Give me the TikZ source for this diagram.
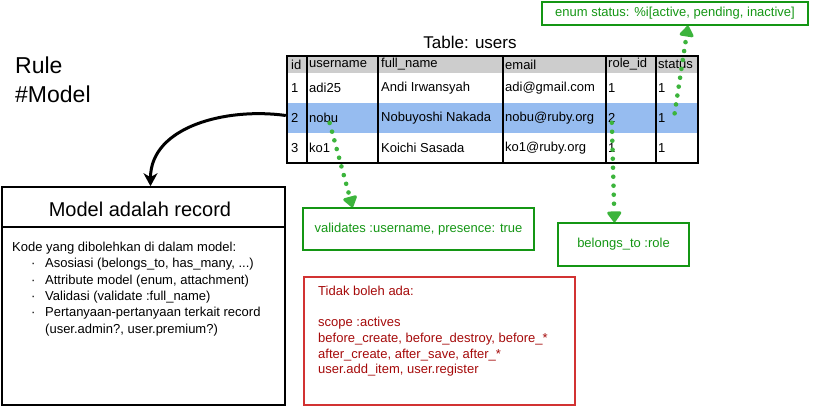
\documentclass[tikz,border=0pt]{standalone}
\usepackage{fontspec}
\setmainfont{Liberation Sans}
\usetikzlibrary{arrows.meta,positioning}
\definecolor{mgreen}{RGB}{20,150,20}
\definecolor{mdot}{RGB}{60,180,60}
\definecolor{mred}{RGB}{210,50,50}
\definecolor{mdarkred}{RGB}{165,10,10}
\definecolor{mrow}{RGB}{150,188,240}
\definecolor{mhead}{RGB}{205,205,205}
\newcommand{\cellfont}{\fontsize{13}{15}\selectfont}
\newcommand{\notefont}{\fontsize{13}{15.6}\selectfont}
\tikzset{cell/.style = {anchor = west, inner sep = 0, font = \cellfont},
  gbox/.style = {draw = mgreen, line width = 1.6, text = mgreen, font = \notefont, inner sep = 0},
  dotarrow/.style = {draw = mdot, line width = 4.6, line cap = round, dash pattern = on 0pt off 9pt,
    -{Triangle[round, length = 12pt, width = 16pt, fill = mdot]}},
  bigarrow/.style = {line width = 3, -{Stealth[length = 13pt, width = 14pt, inset = 4pt]}}}

\begin{document}
\begin{tikzpicture}[x = 1pt, y = -1pt]
      \useasboundingbox (0, 0) rectangle (832, 407);
      \node [anchor = north west, align = left, inner sep = 0, font = \fontsize{23}{29}\selectfont] (rule) at (15, 57) {Rule\\\#Model};
      % table
      \node [font = \fontsize{17}{19}\selectfont] (ttitle) at (470, 42) {Table: users};
      \fill [mhead] (287, 56) rectangle (698, 73);
      \fill [mrow] (287, 103) rectangle (698, 133);
      \foreach \y/\a/\b/\c/\d/\e/\f [count = \r] in {64.5/id/username/full\_name/email/role\_id/status,
          88/1/adi25/Andi Irwansyah/adi@gmail.com/1/1,
          118/2/nobu/Nobuyoshi Nakada/nobu@ruby.org/2/1,
          148/3/ko1/Koichi Sasada/ko1@ruby.org/1/1} {
        \node [cell] (id-\r) at (291, \y) {\a};
        \node [cell] (user-\r) at (309, \y) {\b};
        \node [cell] (name-\r) at (381, \y) {\c};
        \node [cell] (mail-\r) at (505, \y) {\d};
        \node [cell] (role-\r) at (608, \y) {\e};
        \node [cell] (status-\r) at (658, \y) {\f};
      }
      \foreach \x in {307, 378, 503, 606, 656}
        \draw [line width = 2] (\x, 56) -- (\x, 163);
      \node [draw, line width = 2.4, minimum width = 411, minimum height = 107, inner sep = 0] (tbl) at (492.5, 109.5) {};
      % model
      \node [draw, line width = 1.6, minimum width = 283, minimum height = 218, inner sep = 0] (model) at (143.5, 296) {};
      \coordinate (tline) at (0, 227);
      \draw [line width = 1.2] (model.west |- tline) -- (model.east |- tline);
      \node [font = \fontsize{20}{22}\selectfont] (mtitle) at (140, 209) {Model adalah record};
      \node [anchor = north west, align = left, inner sep = 0, font = \fontsize{13}{16.3}\selectfont] (mbody) at (12, 242)
        {Kode yang dibolehkan di dalam model:\\
         \makebox[33pt][l]{\hspace{19pt}·}Asosiasi (belongs\_to, has\_many, ...)\\
         \makebox[33pt][l]{\hspace{19pt}·}Attribute model (enum, attachment)\\
         \makebox[33pt][l]{\hspace{19pt}·}Validasi (validate :full\_name)\\
         \makebox[33pt][l]{\hspace{19pt}·}Pertanyaan-pertanyaan terkait record\\
         \hspace*{33pt}(user.admin?, user.premium?)};
      \draw [bigarrow] ([yshift = -6pt]tbl.west) to [out = 172, in = 90] ([xshift = 7pt]model.north);
      % notes
      \node [gbox, minimum width = 231, minimum height = 42] (valid) at (418.5, 229) {validates :username, presence: true};
      \node [gbox, minimum width = 131, minimum height = 43] (belongs) at (623.5, 244.5) {belongs\_to :role};
      \node [gbox, minimum width = 266, minimum height = 23] (enum) at (675, 13.5) {enum status: \%i[active, pending, inactive]};
      \node [draw = mred, line width = 1.6, minimum width = 271, minimum height = 128, inner sep = 0] (nope) at (439.5, 341) {};
      \node [anchor = north west, align = left, inner sep = 0, text = mdarkred, font = \notefont] (nopetext) at (318, 286)
        {Tidak boleh ada:\\[15.6pt]
         scope :actives\\
         before\_create, before\_destroy, before\_*\\
         after\_create, after\_save, after\_*\\
         user.add\_item, user.register};
      \draw [dotarrow] ([xshift = 6pt]user-3.south) -- ([xshift = -66pt]valid.north);
      \draw [dotarrow] (role-3.south) -- ([xshift = -9pt]belongs.north);
      \draw [dotarrow] ([xshift = 9pt]status-3.north east) -- ([xshift = 13pt]enum.south);
    \end{tikzpicture}
\end{document}
